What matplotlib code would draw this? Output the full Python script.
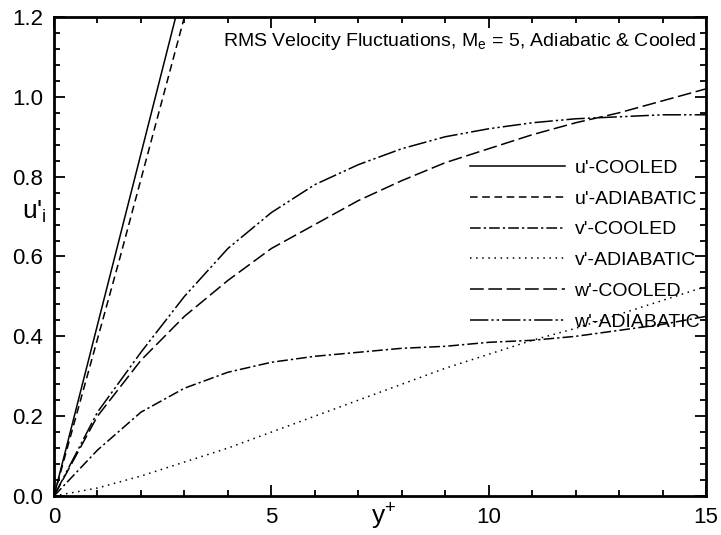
import matplotlib.pyplot as plt
import numpy as np
from matplotlib.ticker import MultipleLocator

plt.rcParams['font.family'] = ['Liberation Sans', 'DejaVu Sans']

# y+ stations
yp = [0, 1, 2, 3, 4, 5, 6, 7, 8, 9, 10, 11, 12, 13, 14, 15]

u_cool_x = [0, 1.4, 2.8]
u_cool = [0, 0.6, 1.2]
u_adia_x = [0, 1.5, 3.0]
u_adia = [0, 0.59, 1.2]

v_cool = [0, 0.115, 0.21, 0.27, 0.31, 0.335, 0.35, 0.36, 0.37, 0.375, 0.385, 0.39, 0.40, 0.415, 0.43, 0.45]
v_adia = [0, 0.02, 0.05, 0.085, 0.12, 0.16, 0.2, 0.24, 0.28, 0.32, 0.355, 0.39, 0.42, 0.455, 0.49, 0.525]
w_cool = [0, 0.2, 0.34, 0.45, 0.54, 0.62, 0.68, 0.74, 0.79, 0.835, 0.87, 0.905, 0.935, 0.96, 0.99, 1.02]
w_adia = [0, 0.21, 0.36, 0.5, 0.62, 0.71, 0.78, 0.83, 0.87, 0.9, 0.92, 0.935, 0.945, 0.95, 0.955, 0.955]

labels = ["u'-COOLED", "u'-ADIABATIC", "v'-COOLED", "v'-ADIABATIC", "w'-COOLED", "w'-ADIABATIC"]

fig = plt.figure(figsize=(7.21, 5.35), dpi=100)
ax = fig.add_axes([54/721, 1 - 496/535, (706-54)/721, (496-17)/535])

lw = 1.1
ax.plot(u_cool_x, u_cool, 'k-', lw=lw, label=labels[0])
ax.plot(u_adia_x, u_adia, 'k', ls=(0, (5, 3)), lw=lw, label=labels[1])
ax.plot(yp, v_cool, 'k', ls=(0, (7, 2, 1.5, 2)), lw=lw, label=labels[2])
ax.plot(yp, v_adia, 'k', ls=(0, (1, 3)), lw=lw, label=labels[3])
ax.plot(yp, w_cool, 'k', ls=(0, (9, 3)), lw=lw, label=labels[4])
ax.plot(yp, w_adia, 'k', ls=(0, (12, 2, 1.5, 2, 1.5, 2)), lw=lw, label=labels[5])

ax.set_xlim(0, 15)
ax.set_ylim(0, 1.2)
ax.xaxis.set_major_locator(MultipleLocator(5))
ax.xaxis.set_minor_locator(MultipleLocator(1))
ax.yaxis.set_major_locator(MultipleLocator(0.2))
ax.yaxis.set_minor_locator(MultipleLocator(0.04))
ax.yaxis.set_major_formatter(plt.FormatStrFormatter('%.1f'))
ax.tick_params(which='both', direction='in', top=True, right=True, labelsize=16, width=1.3)
ax.tick_params(which='major', length=8)
ax.tick_params(which='minor', length=4)
ax.tick_params(axis='x', pad=8)
ax.tick_params(axis='y', pad=8)
for s in ax.spines.values():
    s.set_linewidth(2)

ax.text(-0.03, 0.593, "u'$_\\mathregular{i}$", transform=ax.transAxes, fontsize=19, ha='center', va='center')
ax.text(0.505, -0.04, "y$^\\mathregular{+}$", transform=ax.transAxes, fontsize=19, ha='center', va='center')
ax.text(0.986, 0.948, "RMS Velocity Fluctuations, M$_\\mathregular{e}$ = 5, Adiabatic & Cooled",
        transform=ax.transAxes, fontsize=14, ha='right', va='center')

ax.legend(loc='center right', bbox_to_anchor=(0.991, 0.524), frameon=False, fontsize=14,
          handlelength=4.9, handletextpad=0.5, labelspacing=0.68, borderpad=0, borderaxespad=0)

fig.savefig('out.png', dpi=100)
